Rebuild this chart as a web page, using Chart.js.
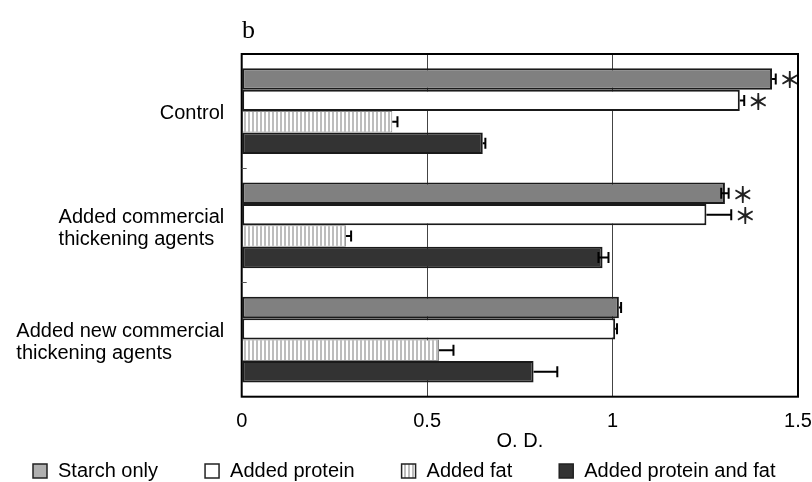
<!DOCTYPE html>
<html><head><meta charset="utf-8">
<script src="https://cdn.jsdelivr.net/npm/chart.js@4.4.1/dist/chart.umd.min.js"></script>
<style>html,body{margin:0;padding:0;background:#fff;}#wrap{width:812px;height:482px;}</style>
</head><body><div id="wrap"><canvas id="c" width="812" height="482"></canvas></div>
<script>
// ---- data ----
const categories = [["Control"], ["Added commercial", "thickening agents"], ["Added new commercial", "thickening agents"]];
const seriesNames = ["Starch only", "Added protein", "Added fat", "Added protein and fat"];
const starchOnly      = [1.430, 1.303, 1.017];
const addedProtein    = [1.343, 1.253, 1.007];
const addedFat        = [0.406, 0.281, 0.532];
const addedProteinFat = [0.650, 0.973, 0.787];
const errPlusStarch      = [0.010, 0.010, 0.006];
const errPlusProtein     = [0.012, 0.067, 0.005];
const errPlusFat         = [0.014, 0.014, 0.039];
const errPlusProteinFat  = [0.007, 0.016, 0.064];
const errMinusStarch     = [0, 0.010, 0];
const errMinusProtein    = [0, 0, 0];
const errMinusFat        = [0, 0, 0];
const errMinusProteinFat = [0, 0.011, 0];
const sigStarch      = [true, true, false];
const sigProtein     = [true, true, false];
const sigFat         = [false, false, false];
const sigProteinFat  = [false, false, false];
const xTicks = [0, 0.5, 1, 1.5];
const xTickLabels = ["0", "0.5", "1", "1.5"];
const axisTitle = "O. D.";
const panelLabel = "b";

const FONT = '"Liberation Sans", Arial, sans-serif';

function stripePattern() {
  const p = document.createElement('canvas');
  p.width = 4; p.height = 4;
  const g = p.getContext('2d');
  g.fillStyle = '#ffffff'; g.fillRect(0, 0, 4, 4);
  g.fillStyle = '#bdbdbd'; g.fillRect(0, 0, 2, 4);
  return document.getElementById('c').getContext('2d').createPattern(p, 'repeat');
}
const fatFill = stripePattern();

const deco = {
  id: 'deco',
  beforeDraw(chart) {
    const c = chart.ctx;
    c.save(); c.fillStyle = '#fff'; c.fillRect(0, 0, chart.width, chart.height); c.restore();
  },
  afterDatasetsDraw(chart) {
    const c = chart.ctx, xs = chart.scales.x;
    c.save();
    chart.data.datasets.forEach((ds, di) => {
      const meta = chart.getDatasetMeta(di);
      meta.data.forEach((bar, j) => {
        const v = ds.data[j];
        const y = bar.y;
        const xe = xs.getPixelForValue(v);
        const xp = xs.getPixelForValue(v + ds.errPlus[j]);
        c.strokeStyle = '#000'; c.lineWidth = 2;
        c.beginPath();
        c.moveTo(xe, y); c.lineTo(xp, y);
        c.moveTo(xp, y - 5.5); c.lineTo(xp, y + 5.5);
        if (ds.errMinus[j] > 0) {
          const xm = xs.getPixelForValue(v - ds.errMinus[j]);
          c.moveTo(xm, y); c.lineTo(xe, y);
          c.moveTo(xm, y - 5.5); c.lineTo(xm, y + 5.5);
        }
        c.stroke();
        if (ds.sig[j]) {
          c.fillStyle = '#222';
          c.font = 'bold 22px "Noto Sans CJK JP", sans-serif';
          c.textAlign = 'center'; c.textBaseline = 'middle';
          c.fillText('\uFF0A', xp + 14, y + 1);
        }
      });
    });
    c.restore();
  },
  afterDraw(chart) {
    const c = chart.ctx, a = chart.chartArea, ys = chart.scales.y;
    c.save();
    // frame
    c.strokeStyle = '#000'; c.lineWidth = 2;
    c.strokeRect(a.left, a.top, a.right - a.left, a.bottom - a.top);
    // category separator ticks
    c.strokeStyle = '#555'; c.lineWidth = 1;
    for (let i = 0; i < categories.length - 1; i++) {
      const yb = Math.round((ys.getPixelForValue(i) + ys.getPixelForValue(i + 1)) / 2) + 0.5;
      c.beginPath(); c.moveTo(a.left, yb); c.lineTo(a.left + 5, yb); c.stroke();
    }
    // category labels
    c.fillStyle = '#000'; c.font = '20px ' + FONT;
    c.textAlign = 'left'; c.textBaseline = 'middle';
    categories.forEach((lines, i) => {
      const w = Math.max(...lines.map(t => c.measureText(t).width));
      const x = a.left - 17.5 - w;
      const yc = ys.getPixelForValue(i) + (lines.length > 1 ? 3 : 2);
      const lh = 22;
      lines.forEach((t, k) => c.fillText(t, x, yc - (lines.length - 1) * lh / 2 + k * lh));
    });
    // panel label
    c.font = '26px "Liberation Serif", serif';
    c.textBaseline = 'alphabetic';
    c.fillText(panelLabel, 242, 38);
    // legend
    c.font = '20px ' + FONT; c.textBaseline = 'middle';
    let x = 33; const yl = 471;
    chart.data.datasets.forEach((ds) => {
      c.fillStyle = ds.legendFill;
      c.fillRect(x, yl - 7, 14, 14);
      c.strokeStyle = '#222'; c.lineWidth = 1.5;
      c.strokeRect(x, yl - 7, 14, 14);
      c.fillStyle = '#000';
      c.fillText(ds.label, x + 25, yl);
      x += 25 + c.measureText(ds.label).width + 47;
    });
    c.restore();
  }
};

const mk = (label, data, fill, legendFill, bc, bw, ep, em, sig) => ({
  label, data, backgroundColor: fill, legendFill, borderColor: bc, borderWidth: bw,
  borderSkipped: false, errPlus: ep, errMinus: em, sig
});

new Chart(document.getElementById('c'), {
  type: 'bar',
  data: {
    labels: categories.map(l => l.join(' ')),
    datasets: [
      mk(seriesNames[0], starchOnly, '#808080', '#b0b0b0', '#1a1a1a', 2, errPlusStarch, errMinusStarch, sigStarch),
      mk(seriesNames[1], addedProtein, '#ffffff', '#ffffff', '#1a1a1a', 2, errPlusProtein, errMinusProtein, sigProtein),
      mk(seriesNames[2], addedFat, fatFill, fatFill, '#8a8a8a', 1, errPlusFat, errMinusFat, sigFat),
      mk(seriesNames[3], addedProteinFat, '#333333', '#333333', '#1a1a1a', 2, errPlusProteinFat, errMinusProteinFat, sigProteinFat)
    ]
  },
  options: {
    responsive: false, animation: false, indexAxis: 'y',
    devicePixelRatio: 1,
    layout: { padding: { top: 54, right: 0, bottom: 0, left: 0 } },
    plugins: { legend: { display: false }, tooltip: { enabled: false }, title: { display: false } },
    datasets: { bar: { categoryPercentage: 0.75, barPercentage: 1.0 } },
    scales: {
      x: {
        type: 'linear', min: 0, max: 1.5,
        afterBuildTicks: s => { s.ticks = xTicks.map(v => ({ value: v })); },
        ticks: { callback: (v, i) => xTickLabels[i], color: '#000', font: { family: FONT, size: 20 }, padding: 13, maxRotation: 0, autoSkip: false },
        grid: { color: '#444', lineWidth: 1, drawTicks: false },
        border: { display: false },
        title: { display: true, text: axisTitle, color: '#000', font: { family: FONT, size: 20 }, padding: { top: 0, bottom: 29 } },
        afterFit: s => { s.height = 85.3; s.paddingRight = 14; s.paddingLeft = 0; }
      },
      y: {
        type: 'category',
        ticks: { display: false },
        grid: { display: false },
        border: { display: false },
        afterFit: s => { s.width = 241.7; }
      }
    }
  },
  plugins: [deco]
});
</script>
</body></html>
